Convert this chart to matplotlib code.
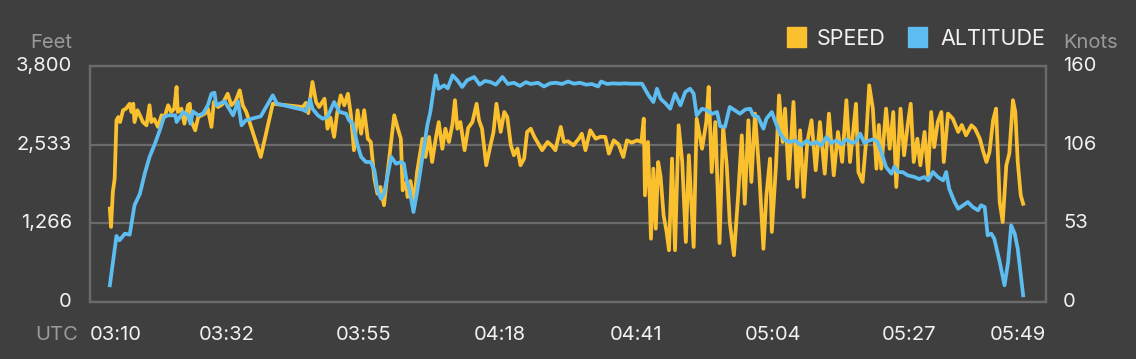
import matplotlib
matplotlib.use("Agg")
import matplotlib.pyplot as plt
from matplotlib.patches import Rectangle
import numpy as np

# flight log: minutes after 03:10 UTC
altTime = [3.3, 4.4, 4.9, 5.8, 6.6, 7.4, 8.3, 9.1, 9.9, 10.8, 11.6, 12.3, 13.0, 14.2, 14.4, 15.5, 16.3, 16.7, 17.1,
           18.0, 18.8, 19.6, 20.2, 20.7, 21.0, 22.4, 23.8, 24.6, 25.2, 25.9, 28.4, 30.4, 31.1, 35.4, 35.9, 36.6, 37.0,
           37.9, 38.7, 39.5, 40.6, 41.5, 42.6, 43.1, 43.7, 44.5, 45.1, 45.9, 46.7, 47.3, 47.8, 48.4, 48.9, 50.1, 50.9,
           51.7, 52.2, 52.6, 53.1, 53.8, 54.4, 55.3, 56.1, 56.6, 57.5, 58.0, 58.9, 59.5, 60.3, 61.1, 61.9, 62.7, 63.9,
           64.8, 65.7, 66.6, 67.5, 68.6, 69.5, 70.5, 71.5, 72.5, 73.3, 74.5, 75.5, 76.5, 77.5, 78.5, 79.5, 80.5, 81.5,
           82.5, 83.5, 84.5, 85.0, 86.0, 87.0, 88.0, 89.0, 90.0, 91.8, 92.3, 92.9, 93.7, 94.3, 94.9, 95.7, 96.5, 97.3,
           98.2, 99.0, 99.8, 100.4, 100.9, 101.8, 102.6, 103.5, 104.3, 104.8, 105.6, 106.4, 107.2, 108.1, 109.0, 109.8,
           110.3, 111.1, 112.0, 112.5, 113.4, 113.9, 114.8, 115.6, 116.4, 117.3, 118.3, 119.2, 120.0, 120.8, 121.6,
           122.5, 123.3, 124.1, 125.0, 125.8, 126.7, 127.4, 128.1, 128.8, 129.6, 130.3, 131.0, 131.6, 132.4, 133.3,
           133.8, 134.4, 135.2, 136.0, 137.1, 137.9, 138.8, 139.4, 140.2, 141.0, 141.9, 142.4, 142.9, 143.8, 144.4,
           145.2, 146.0, 146.8, 147.7, 148.2, 148.8, 149.3, 149.9, 150.4, 151.3, 152.1, 152.7, 153.2, 153.8, 154.3,
           155.2]
altitude = [269, 1063, 993, 1100, 1084, 1557, 1744, 2066, 2335, 2549, 2764, 2979, 3006, 3006, 2898, 3059, 3006, 2871,
            3070, 3006, 3032, 3167, 3354, 3370, 3167, 3231, 3006, 3231, 2845, 2925, 2990, 3328, 3193, 3096, 3070, 3263,
            3112, 3006, 2951, 2979, 3220, 3059, 3032, 2925, 2871, 2523, 2335, 2254, 2254, 2120, 1798, 1663, 1744, 2335,
            2227, 2254, 2227, 1985, 1824, 1449, 1771, 2335, 2845, 3059, 3650, 3434, 3489, 3440, 3650, 3569, 3462, 3569,
            3623, 3500, 3560, 3542, 3500, 3623, 3510, 3530, 3480, 3540, 3510, 3530, 3470, 3520, 3530, 3510, 3550, 3515,
            3530, 3500, 3510, 3470, 3550, 3510, 3520, 3515, 3520, 3515, 3515, 3430, 3328, 3220, 3434, 3273, 3200, 3112,
            3354, 3167, 3381, 3434, 3354, 3006, 3112, 3086, 3030, 3059, 2830, 2818, 3140, 3090, 3032, 3100, 3112, 3006,
            2980, 2791, 2951, 3059, 2925, 2710, 2603, 2576, 2600, 2523, 2600, 2540, 2580, 2520, 2657, 2560, 2600, 2540,
            2620, 2560, 2580, 2710, 2560, 2600, 2620, 2576, 2415, 2174, 2066, 2180, 2093, 2090, 2039, 2013, 1980, 2013,
            1959, 2093, 2013, 1959, 2093, 1824, 1610, 1502, 1557, 1610, 1530, 1476, 1557, 1530, 1074, 1100, 1019, 644,
            269, 644, 1235, 1100, 858, 108]

speedTime = [3.3, 3.5, 3.8, 4.1, 4.4, 4.7, 5.0, 5.5, 6.0, 6.6, 6.9, 7.2, 7.4, 7.9, 8.3, 8.8, 9.4, 9.9, 10.2, 10.7,
             11.3, 11.9, 12.4, 13.0, 13.5, 14.0, 14.4, 14.6, 15.2, 15.7, 16.3, 16.6, 16.8, 17.5, 18.0, 19.1, 19.6,
             20.2, 20.6, 21.3, 22.0, 22.9, 23.5, 24.2, 24.9, 25.4, 26.0, 28.4, 30.4, 35.4, 35.9, 36.3, 37.0, 37.6,
             38.1, 39.0, 39.5, 40.0, 40.6, 41.1, 41.7, 42.3, 42.9, 43.4, 43.9, 44.5, 45.1, 45.6, 46.2, 46.7, 47.3,
             47.8, 48.3, 48.9, 49.5, 50.6, 51.2, 51.7, 52.0, 52.6, 52.8, 53.3, 53.9, 54.4, 55.3, 55.8, 56.4, 56.9,
             57.5, 58.0, 58.6, 59.1, 59.7, 60.3, 60.7, 61.1, 61.6, 62.3, 62.9, 63.6, 64.3, 64.7, 65.2, 65.9, 66.6,
             67.1, 67.6, 68.3, 68.9, 69.4, 70.0, 70.5, 71.1, 71.6, 72.2, 72.7, 73.3, 73.9, 74.4, 75.2, 76.1, 76.8,
             77.4, 78.3, 78.8, 79.5, 80.4, 81.3, 81.8, 82.4, 83.2, 84.1, 84.9, 85.7, 86.3, 87.1, 87.9, 88.7, 89.3,
             90.1, 91.0, 91.7, 92.1, 92.3, 92.8, 93.3, 93.7, 94.1, 94.5, 94.9, 95.4, 95.9, 96.3, 96.8, 97.3, 97.9,
             98.5, 99.1, 99.6, 100.4, 100.9, 101.8, 102.5, 102.9, 103.4, 104.0, 104.7, 105.3, 105.9, 106.4, 107.1,
             107.8, 108.4, 108.9, 109.5, 110.0, 110.6, 111.3, 112.0, 112.5, 113.1, 113.4, 114.1, 114.6, 115.2, 115.6,
             116.2, 117.0, 117.6, 118.1, 118.7, 119.3, 120.0, 120.7, 121.4, 122.2, 122.9, 123.7, 124.4, 125.1, 125.8,
             126.4, 127.4, 127.8, 128.5, 129.0, 129.6, 130.2, 130.8, 131.2, 131.6, 132.4, 133.0, 133.6, 134.1, 134.8,
             135.4, 136.0, 136.5, 137.0, 137.6, 138.1, 138.8, 139.4, 139.9, 140.4, 141.0, 141.6, 142.0, 142.7, 143.5,
             144.4, 145.0, 145.7, 146.6, 147.2, 148.0, 148.5, 149.1, 149.6, 150.2, 150.7, 151.3, 151.8, 152.4, 152.9,
             153.5, 153.9, 154.3, 154.8, 155.2]
speed = [63.3, 50.9, 74.6, 83.6, 123.2, 125.4, 122.0, 130.0, 131.1, 134.4, 128.8, 134.4, 122.0, 130.0, 126.6, 122.0,
         119.8, 133.4, 122.0, 124.0, 118.7, 126.6, 125.4, 133.4, 128.8, 131.0, 145.8, 128.8, 131.1, 120.9, 133.4, 134.4,
         123.2, 116.4, 125.4, 127.7, 131.1, 118.7, 135.6, 132.2, 134.0, 141.2, 133.4, 136.0, 143.5, 133.4, 128.8, 98.3,
         134.4, 132.2, 135.0, 128.0, 149.2, 135.6, 132.2, 137.8, 117.5, 125.0, 111.9, 128.0, 140.1, 133.4, 141.2, 126.6,
         102.9, 130.0, 114.1, 130.0, 110.7, 108.5, 83.6, 73.4, 78.0, 65.6, 88.1, 126.6, 117.5, 110.7, 75.7, 81.4, 71.2,
         82.0, 67.8, 88.1, 110.7, 98.3, 111.9, 94.9, 110.7, 122.0, 103.9, 117.5, 108.5, 120.9, 136.8, 117.5, 122.0,
         102.9, 118.0, 122.0, 134.4, 123.2, 117.5, 92.7, 106.2, 115.0, 134.4, 115.3, 128.8, 125.4, 106.2, 99.5, 104.0,
         92.7, 97.2, 115.3, 117.5, 112.0, 108.5, 102.9, 108.5, 106.0, 102.9, 118.7, 108.5, 109.0, 106.2, 110.7, 114.1,
         102.9, 116.4, 110.7, 112.0, 111.9, 100.6, 109.6, 107.0, 98.3, 109.6, 108.0, 109.6, 108.5, 124.3, 72.3, 108.5,
         42.9, 90.4, 49.7, 94.9, 85.0, 58.8, 47.5, 35.1, 97.2, 35.1, 119.8, 94.9, 40.7, 99.5, 37.3, 124.3, 103.9, 122.0,
         145.8, 88.1, 122.0, 40.0, 118.7, 92.7, 54.2, 31.7, 72.3, 113.0, 66.6, 123.2, 81.4, 127.7, 88.1, 36.1, 72.3,
         97.2, 47.5, 92.7, 140.1, 108.5, 131.1, 83.6, 135.6, 78.0, 116.4, 71.2, 108.5, 123.2, 89.3, 122.0, 87.0, 127.7,
         85.9, 115.3, 95.0, 136.8, 94.9, 134.4, 88.1, 81.4, 105.0, 146.9, 131.1, 90.4, 120.0, 90.4, 131.1, 103.9, 128.8,
         78.0, 131.1, 99.5, 120.0, 134.4, 94.9, 110.7, 92.7, 115.3, 85.9, 128.8, 105.0, 122.0, 128.8, 94.9, 127.7,
         124.3, 115.3, 120.0, 113.0, 119.8, 117.5, 110.7, 102.9, 94.9, 101.7, 123.2, 131.1, 67.8, 54.2, 92.7, 100.6,
         136.8, 128.8, 94.9, 72.3, 66.6]

timeLabels = ["03:10", "03:32", "03:55", "04:18", "04:41", "05:04", "05:27", "05:49"]
feetLabels = ["0", "1,266", "2,533", "3,800"]
knotLabels = ["0", "53", "106", "160"]

bg = "#3f3f3f"
gridColor = "#6b6b6b"
yellow = "#fbc02d"
blue = "#5dbcf0"
textColor = "#f2f2f2"
dimColor = "#9a9a9a"

plt.rcParams["font.family"] = ["Inter", "DejaVu Sans"]

fig = plt.figure(figsize=(11.36, 3.59), dpi=100, facecolor=bg)
ax = fig.add_axes([90 / 1136, 1 - 302 / 359, 956 / 1136, 236 / 359], facecolor=bg)
ax2 = ax.twinx()

# speed first so altitude sits on top
ax2.plot(speedTime, speed, color=yellow, lw=2.7, zorder=2)
ax2.set_ylim(0, 160)
ax.set_ylim(0, 3800)
ax.set_xlim(0, 159)
ax.set_zorder(ax2.get_zorder() + 1)
ax.patch.set_visible(False)
ax2.patch.set_visible(True)
ax2.patch.set_facecolor(bg)
ax.plot(altTime, altitude, color=blue, lw=2.7, zorder=3)

xt = np.linspace(0, 159, 8)
ax.set_xticks(xt)
ax.set_xticklabels([])
ax.set_yticks(np.linspace(0, 3800, 4))
ax.set_yticklabels([])
ax2.set_yticks(np.linspace(0, 160, 4))
ax2.set_yticklabels([])
for a in (ax, ax2):
    a.tick_params(length=0)
    for s in a.spines.values():
        s.set_color(gridColor)
        s.set_linewidth(1.6)
ax2.grid(True, color=gridColor, lw=1.6, axis="y")
ax2.grid(True, color=gridColor, lw=1.6, axis="x")
ax2.set_xticks(xt)

# tick labels as text so alignment matches
def fx(px):
    return px / 1136

def fy(py):
    return 1 - py / 359

fs = 14.5
for i, lab in enumerate(feetLabels):
    py = 302 - i * 236 / 3
    fig.text(fx(72), fy(py), lab, color=textColor, fontsize=fs, ha="right", va="center")
for i, lab in enumerate(knotLabels):
    py = 302 - i * 236 / 3
    fig.text(fx(1063), fy(py), lab, color=textColor, fontsize=fs, ha="left", va="center")
fig.text(fx(72), fy(43), "Feet", color=dimColor, fontsize=fs, ha="right", va="center")
fig.text(fx(1063), fy(43), "Knots", color=dimColor, fontsize=fs, ha="left", va="center")
fig.text(fx(78), fy(335), "UTC", color=dimColor, fontsize=fs, ha="right", va="center")
for i, lab in enumerate(timeLabels):
    px = 90 + i * 956 / 7
    ha = "left" if i == 0 else ("right" if i == len(timeLabels) - 1 else "center")
    fig.text(fx(px), fy(335), lab, color=textColor, fontsize=fs, ha=ha, va="center")

# legend
fig.add_artist(Rectangle((fx(787), fy(47)), 19 / 1136, 20 / 359, transform=fig.transFigure, color=yellow))
fig.text(fx(817), fy(39), "SPEED", color=textColor, fontsize=15.5, ha="left", va="center")
fig.add_artist(Rectangle((fx(908), fy(47)), 19 / 1136, 20 / 359, transform=fig.transFigure, color=blue))
fig.text(fx(940), fy(39), "ALTITUDE", color=textColor, fontsize=15.5, ha="left", va="center")

fig.savefig("out.png", dpi=100, facecolor=bg)
